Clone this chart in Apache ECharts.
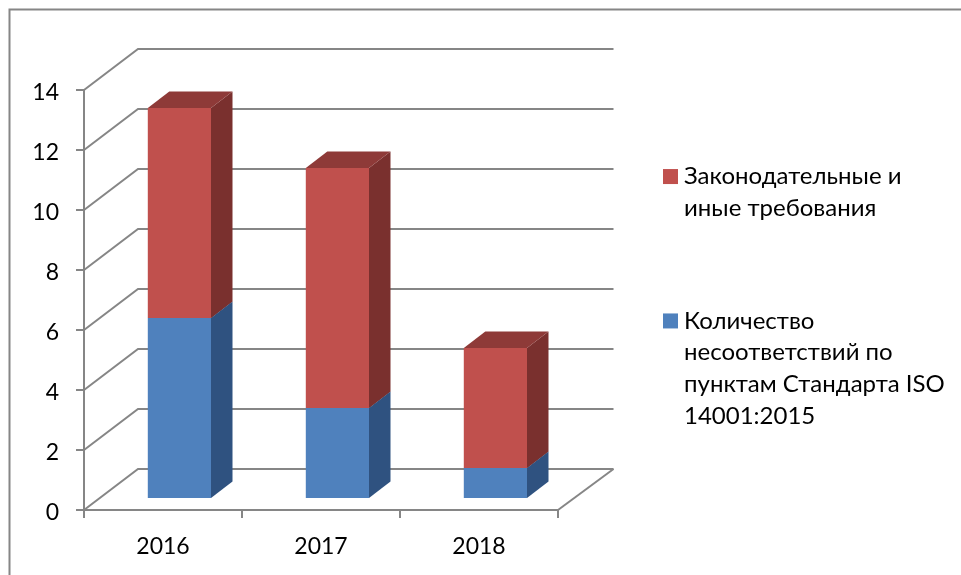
<!DOCTYPE html>
<html><head><meta charset="utf-8">
<style>html,body{margin:0;padding:0;background:#fff}#c{width:961px;height:575px}</style>
<script src="https://cdn.jsdelivr.net/npm/echarts@6/dist/echarts.min.js"></script>
</head><body><div id="c"></div>
<script>
const categories = ['2016', '2017', '2018'];
const isoValues = [6, 3, 1];
const legalValues = [7, 8, 4];
const yTicks = [0, 2, 4, 6, 8, 10, 12, 14];
const isoName = 'Количество\nнесоответствий по\nпунктам Стандарта ISO\n14001:2015';
const legalName = 'Законодательные и\nиные требования';

const FONT = 'Lato, "Open Sans", sans-serif';
const GRID = '#868686';
const WALL = [54, -41], BASE = [16.4, -12], DEPTH = [21.5, -16.5], WALL_EXTRA = 1.5;

function padLines(s){ const n = s.split('\n').length - 1; return '\n'.repeat(n) + s; }

function pts(list){ return {points: list}; }
function boxSeries(name, starts, values, front, side, top){
  return {
    name, type: 'custom', coordinateSystem: 'cartesian2d', z: 5, clip: false,
    itemStyle: {color: front},
    encode: {x: 0, y: [1, 2]},
    data: values.map((v, i) => [i, starts[i], starts[i] + v]),
    renderItem(params, api){
      const c = api.value(0), w = api.size([1, 0])[0] * 0.4;
      const a = api.coord([c, api.value(1)]), b = api.coord([c, api.value(2)]);
      const l = a[0] - w / 2 + BASE[0], r = l + w, y0 = a[1] + BASE[1], y1 = b[1] + BASE[1];
      const dx = DEPTH[0], dy = DEPTH[1];
      return {type: 'group', children: [
        {type: 'polygon', shape: pts([[r, y0], [r + dx, y0 + dy], [r + dx, y1 + dy], [r, y1]]), style: {fill: side}},
        {type: 'polygon', shape: pts([[l, y1], [l + dx, y1 + dy], [r + dx, y1 + dy], [r, y1]]), style: {fill: top}},
        {type: 'rect', shape: {x: l, y: y1, width: w, height: y0 - y1}, style: {fill: front}}
      ]};
    }
  };
}

const wallSeries = {
  type: 'custom', coordinateSystem: 'cartesian2d', z: 1, silent: true, clip: false,
  legendHoverLink: false,
  encode: {y: 0},
  data: yTicks.map(v => [v]),
  renderItem(params, api){
    const v = api.value(0);
    const a = api.coord([0, v]), e = api.coord([categories.length - 1, v]);
    const cw = api.size([1, 0])[0];
    const x0 = a[0] - cw / 2, x1 = e[0] + cw / 2, y = a[1];
    const st = {stroke: GRID, lineWidth: 2, fill: null};
    const kids = [
      {type: 'polyline', shape: pts([[x0, y], [x0 + WALL[0], y + WALL[1]], [x1 + WALL[0] + WALL_EXTRA, y + WALL[1]]]), style: st}
    ];
    if (v === 0) kids.push({type: 'line', shape: {x1: x1, y1: y, x2: x1 + WALL[0] + WALL_EXTRA, y2: y + WALL[1]}, style: st});
    return {type: 'group', children: kids};
  }
};

const starts = categories.map(() => 0);
const chart = echarts.init(document.getElementById('c'), null, {renderer: 'canvas'});
chart.setOption({
  animation: false,
  backgroundColor: '#fff',
  graphic: [
    {type: 'polyline', silent: true, z: 0, shape: {points: [[9.5, 575], [9.5, 9.5], [961, 9.5]]}, style: {stroke: GRID, lineWidth: 2, fill: null}}
  ],
  legend: [
    {data: [{name: legalName, icon: 'rect'}], left: 663, top: 129, itemWidth: 15, itemHeight: 15, selectedMode: false,
     padding: 0, formatter: padLines, textStyle: {fontFamily: FONT, fontSize: 24, lineHeight: 31.7, color: '#000', padding: [0, 0, 0, 1]}},
    {data: [{name: isoName, icon: 'rect'}], left: 663, top: 210, itemWidth: 15, itemHeight: 15, selectedMode: false,
     padding: 0, formatter: padLines, textStyle: {fontFamily: FONT, fontSize: 24, lineHeight: 31.7, color: '#000', padding: [0, 0, 0, 1]}}
  ],
  grid: {left: 84, top: 90, width: 474, height: 420, containLabel: false},
  xAxis: {
    type: 'category', data: categories,
    axisLine: {lineStyle: {color: GRID, width: 2}},
    axisTick: {show: true, length: 8, alignWithLabel: false, lineStyle: {color: GRID, width: 2}},
    axisLabel: {fontFamily: FONT, fontSize: 23, color: '#000', margin: 25},
    splitLine: {show: false}
  },
  yAxis: {
    type: 'value', min: 0, max: 14, interval: 2,
    axisLine: {show: true, lineStyle: {color: GRID, width: 2}},
    axisTick: {show: true, length: 8, lineStyle: {color: GRID, width: 2}},
    axisLabel: {
      color: '#000', margin: 25, formatter: '{t|{value}}',
      rich: {t: {fontFamily: FONT, fontSize: 23, color: '#000', padding: [5, 0, 0, 0]}}
    },
    splitLine: {show: false}
  },
  series: [
    wallSeries,
    boxSeries(isoName, starts, isoValues, '#4F81BD', '#2F5280', '#3B618F'),
    boxSeries(legalName, isoValues, legalValues, '#C0504D', '#7A302E', '#8E3A38')
  ]
});
</script></body></html>
